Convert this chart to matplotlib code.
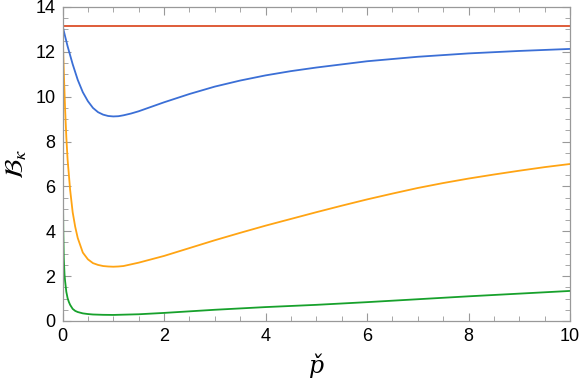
import numpy as np
import matplotlib
matplotlib.use("Agg")
import matplotlib.pyplot as plt
from matplotlib.ticker import MultipleLocator

# values
B0 = 13.17

p_blue = [0, 0.025, 0.05, 0.1, 0.15, 0.2, 0.3, 0.4, 0.5, 0.6, 0.7, 0.8, 0.9,
          1.0, 1.1, 1.2, 1.35, 1.5, 1.75, 2, 2.5, 3, 3.5, 4, 4.5, 5, 6, 7, 8,
          9, 10]
B_blue = [13.17, 12.93, 12.7, 12.25, 11.85, 11.45, 10.75, 10.2, 9.8, 9.5, 9.31,
          9.2, 9.14, 9.12, 9.13, 9.17, 9.25, 9.35, 9.55, 9.75, 10.12, 10.45,
          10.72, 10.95, 11.14, 11.3, 11.58, 11.78, 11.93, 12.04, 12.13]

p_orange = [0, 0.01, 0.02, 0.03, 0.05, 0.075, 0.1, 0.15, 0.2, 0.25, 0.3, 0.4,
            0.5, 0.6, 0.7, 0.8, 0.9, 1.0, 1.1, 1.2, 1.5, 1.75, 2, 2.5, 3, 3.5,
            4, 4.5, 5, 5.5, 6, 6.5, 7, 7.5, 8, 8.5, 9, 9.5, 10]
B_orange = [13.17, 12.3, 11.5, 10.8, 9.5, 8.2, 7.2, 5.85, 4.85, 4.2, 3.7, 3.05,
            2.75, 2.58, 2.5, 2.45, 2.43, 2.42, 2.43, 2.45, 2.6, 2.75, 2.9, 3.25,
            3.6, 3.93, 4.25, 4.55, 4.85, 5.14, 5.42, 5.68, 5.93, 6.15, 6.35,
            6.53, 6.7, 6.86, 7.0]

p_green = [0, 0.003, 0.008, 0.015, 0.025, 0.04, 0.05, 0.075, 0.1, 0.125, 0.15,
           0.2, 0.25, 0.3, 0.4, 0.5, 0.6, 0.8, 1.0, 1.5, 2, 3, 4, 5, 6, 7, 8, 9,
           10]
B_green = [13.17, 10.0, 6.0, 4.0, 2.8, 2.05, 1.8, 1.3, 1.02, 0.85, 0.72, 0.54,
           0.45, 0.4, 0.34, 0.31, 0.29, 0.275, 0.27, 0.3, 0.36, 0.5, 0.62, 0.72,
           0.84, 0.97, 1.1, 1.22, 1.34]

p_red = [0, 10]
B_red = [B0, B0]

plt.rcParams['font.family'] = ['Liberation Sans', 'DejaVu Sans']
plt.rcParams['mathtext.fontset'] = 'stix'

fig = plt.figure(figsize=(5.81, 3.88), dpi=100)
ax = fig.add_axes([0.1076, 0.1727, 0.8735, 0.8093])

ax.plot(p_red, B_red, color='#dc4f2a', lw=1.3)
ax.plot(p_blue, B_blue, color='#3b6fd6', lw=1.3)
ax.plot(p_orange, B_orange, color='#ffa413', lw=1.3)
ax.plot(p_green, B_green, color='#17a12c', lw=1.3)

ax.set_xlim(0, 10)
ax.set_ylim(0, 14)
ax.xaxis.set_major_locator(MultipleLocator(2))
ax.xaxis.set_minor_locator(MultipleLocator(0.5))
ax.yaxis.set_major_locator(MultipleLocator(2))
ax.yaxis.set_minor_locator(MultipleLocator(0.5))
ax.tick_params(which='both', direction='in', top=True, right=True,
               color='#999999', labelsize=13, labelcolor='black')
ax.tick_params(which='major', length=6, width=0.8, pad=5)
ax.tick_params(which='minor', length=3.5, width=0.6)
for s in ax.spines.values():
    s.set_color('#999999')
    s.set_linewidth(0.9)

# combining caron renders cleanly in DejaVu Serif italic
ax.set_xlabel('p\u030c', fontsize=17, family='DejaVu Serif', style='italic', labelpad=6)
ax.set_ylabel(r'$\mathcal{B}_{\kappa}$', fontsize=19, labelpad=5)

fig.savefig('out.png', dpi=100)
